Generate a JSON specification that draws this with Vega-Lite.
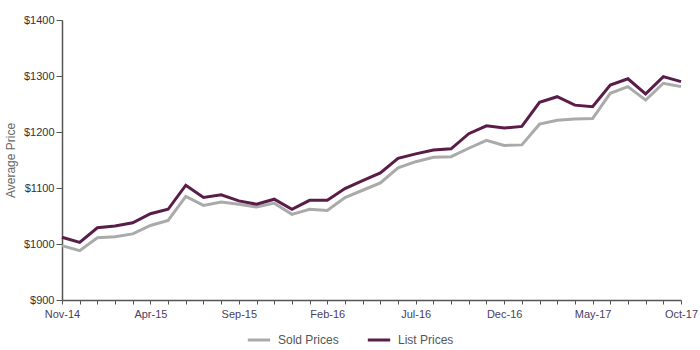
{
  "$schema": "https://vega.github.io/schema/vega-lite/v6.json",
  "width": 619,
  "height": 280,
  "autosize": {"type": "none"},
  "padding": {"left": 62, "top": 20, "right": 19, "bottom": 50},
  "background": "white",
  "config": {"view": {"stroke": null}, "font": "Liberation Sans"},
  "data": {"values": [
    {"month":"Nov-14","series":"Sold Prices","price":997},
    {"month":"Dec-14","series":"Sold Prices","price":988},
    {"month":"Jan-15","series":"Sold Prices","price":1011},
    {"month":"Feb-15","series":"Sold Prices","price":1013},
    {"month":"Mar-15","series":"Sold Prices","price":1018},
    {"month":"Apr-15","series":"Sold Prices","price":1033},
    {"month":"May-15","series":"Sold Prices","price":1042},
    {"month":"Jun-15","series":"Sold Prices","price":1085},
    {"month":"Jul-15","series":"Sold Prices","price":1069},
    {"month":"Aug-15","series":"Sold Prices","price":1075},
    {"month":"Sep-15","series":"Sold Prices","price":1071},
    {"month":"Oct-15","series":"Sold Prices","price":1066},
    {"month":"Nov-15","series":"Sold Prices","price":1073},
    {"month":"Dec-15","series":"Sold Prices","price":1053},
    {"month":"Jan-16","series":"Sold Prices","price":1062},
    {"month":"Feb-16","series":"Sold Prices","price":1060},
    {"month":"Mar-16","series":"Sold Prices","price":1083},
    {"month":"Apr-16","series":"Sold Prices","price":1096},
    {"month":"May-16","series":"Sold Prices","price":1109},
    {"month":"Jun-16","series":"Sold Prices","price":1136},
    {"month":"Jul-16","series":"Sold Prices","price":1147},
    {"month":"Aug-16","series":"Sold Prices","price":1155},
    {"month":"Sep-16","series":"Sold Prices","price":1156},
    {"month":"Oct-16","series":"Sold Prices","price":1171},
    {"month":"Nov-16","series":"Sold Prices","price":1185},
    {"month":"Dec-16","series":"Sold Prices","price":1176},
    {"month":"Jan-17","series":"Sold Prices","price":1177},
    {"month":"Feb-17","series":"Sold Prices","price":1214},
    {"month":"Mar-17","series":"Sold Prices","price":1221},
    {"month":"Apr-17","series":"Sold Prices","price":1223},
    {"month":"May-17","series":"Sold Prices","price":1224},
    {"month":"Jun-17","series":"Sold Prices","price":1269},
    {"month":"Jul-17","series":"Sold Prices","price":1281},
    {"month":"Aug-17","series":"Sold Prices","price":1257},
    {"month":"Sep-17","series":"Sold Prices","price":1287},
    {"month":"Oct-17","series":"Sold Prices","price":1281},
    {"month":"Nov-14","series":"List Prices","price":1012},
    {"month":"Dec-14","series":"List Prices","price":1003},
    {"month":"Jan-15","series":"List Prices","price":1029},
    {"month":"Feb-15","series":"List Prices","price":1032},
    {"month":"Mar-15","series":"List Prices","price":1038},
    {"month":"Apr-15","series":"List Prices","price":1054},
    {"month":"May-15","series":"List Prices","price":1062},
    {"month":"Jun-15","series":"List Prices","price":1105},
    {"month":"Jul-15","series":"List Prices","price":1083},
    {"month":"Aug-15","series":"List Prices","price":1088},
    {"month":"Sep-15","series":"List Prices","price":1077},
    {"month":"Oct-15","series":"List Prices","price":1071},
    {"month":"Nov-15","series":"List Prices","price":1080},
    {"month":"Dec-15","series":"List Prices","price":1062},
    {"month":"Jan-16","series":"List Prices","price":1078},
    {"month":"Feb-16","series":"List Prices","price":1078},
    {"month":"Mar-16","series":"List Prices","price":1099},
    {"month":"Apr-16","series":"List Prices","price":1113},
    {"month":"May-16","series":"List Prices","price":1127},
    {"month":"Jun-16","series":"List Prices","price":1153},
    {"month":"Jul-16","series":"List Prices","price":1161},
    {"month":"Aug-16","series":"List Prices","price":1168},
    {"month":"Sep-16","series":"List Prices","price":1170},
    {"month":"Oct-16","series":"List Prices","price":1197},
    {"month":"Nov-16","series":"List Prices","price":1211},
    {"month":"Dec-16","series":"List Prices","price":1207},
    {"month":"Jan-17","series":"List Prices","price":1210},
    {"month":"Feb-17","series":"List Prices","price":1253},
    {"month":"Mar-17","series":"List Prices","price":1263},
    {"month":"Apr-17","series":"List Prices","price":1248},
    {"month":"May-17","series":"List Prices","price":1245},
    {"month":"Jun-17","series":"List Prices","price":1284},
    {"month":"Jul-17","series":"List Prices","price":1295},
    {"month":"Aug-17","series":"List Prices","price":1268},
    {"month":"Sep-17","series":"List Prices","price":1299},
    {"month":"Oct-17","series":"List Prices","price":1290}
  ]},
  "mark": {"type": "line", "strokeWidth": 3, "strokeJoin": "miter"},
  "encoding": {
    "x": {
      "field": "month", "type": "ordinal", "sort": null,
      "scale": {"type": "point", "padding": 0},
      "axis": {
        "title": null, "labelAngle": 0, "grid": false,
        "domainColor": "#555555", "domainWidth": 1.5,
        "tickColor": "#555555", "tickSize": 4, "tickWidth": 1,
        "labelColor": "#4a4060", "labelFontSize": 11, "labelPadding": 4,
        "labelFont": "Liberation Sans",
        "labelExpr": "indexof(['Nov-14','Apr-15','Sep-15','Feb-16','Jul-16','Dec-16','May-17','Oct-17'], datum.value) >= 0 ? datum.value : ''"
      }
    },
    "y": {
      "field": "price", "type": "quantitative",
      "scale": {"domain": [900, 1400], "nice": false, "zero": false},
      "axis": {
        "title": "Average Price", "titleColor": "#666666", "titleFontWeight": "normal",
        "titleFontSize": 12, "titleFont": "Liberation Sans", "titlePadding": 6,
        "values": [900, 1000, 1100, 1200, 1300, 1400],
        "labelExpr": "'$' + datum.value",
        "grid": false, "domainColor": "#555555", "domainWidth": 1.5,
        "tickColor": "#555555", "tickSize": 6,
        "labelColor": "#333333", "labelFontSize": 11, "labelPadding": 2,
        "labelFont": "Liberation Sans"
      }
    },
    "color": {
      "field": "series", "type": "nominal",
      "scale": {"domain": ["Sold Prices", "List Prices"], "range": ["#aaaaaa", "#5a1c48"]},
      "legend": {
        "title": null, "orient": "none", "direction": "horizontal",
        "legendX": 184, "legendY": 307,
        "symbolType": "stroke", "symbolSize": 500, "symbolStrokeWidth": 3,
        "labelFontSize": 12, "labelColor": "#555555", "labelFont": "Liberation Sans",
        "labelOffset": 6, "columnPadding": 22
      }
    }
  }
}
